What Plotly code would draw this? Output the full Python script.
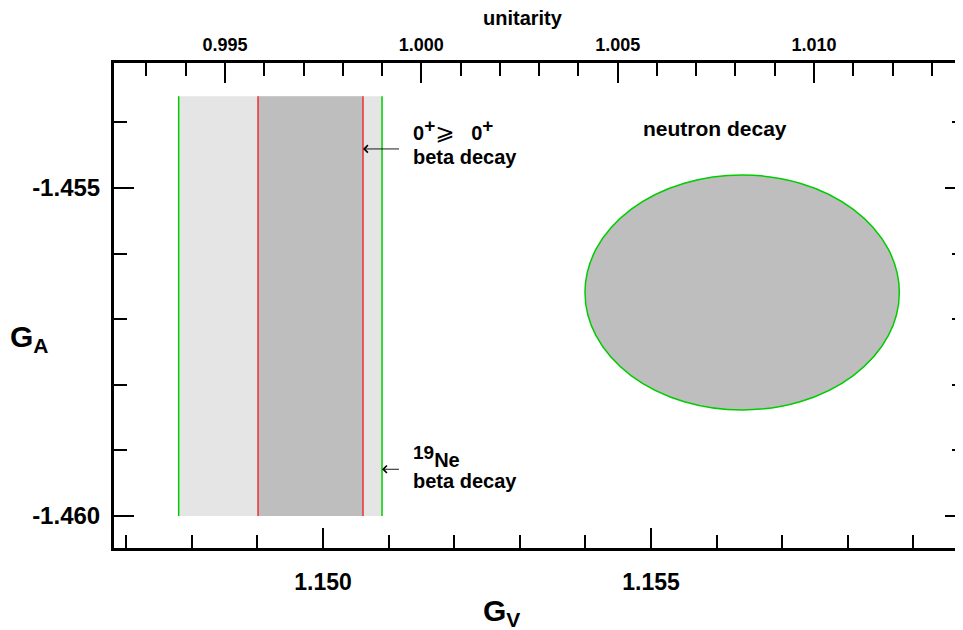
import plotly.graph_objects as go

# ---- data ----
gv_range = [1.146814, 1.159787]          # bottom axis G_V
unit_range = [0.992173, 1.013845]        # top axis "unitarity" (linear map of G_V)
ga_range = [-1.460488, -1.453095]        # G_A

x_tick_vals = [1.150, 1.155]
x_tick_text = ["1.150", "1.155"]
u_tick_vals = [0.995, 1.000, 1.005, 1.010]
u_tick_text = ["0.995", "1.000", "1.005", "1.010"]
y_tick_vals = [-1.455, -1.460]
y_tick_text = ["-1.455", "-1.460"]

ne19_band = [1.14780, 1.15090]           # 19Ne beta decay (green edges)
superallowed_band = [1.14901, 1.15061]   # 0+ -> 0+ beta decay (red edges)
band_ga = [-1.4600, -1.4536]             # vertical extent of the bands

neutron_center = [1.15639, -1.456593]    # neutron decay ellipse (G_V, G_A)
neutron_semi = [0.002396, 0.001791]      # semi-axes (G_V, G_A)

label_x = 1.151334                       # left edge of the band labels
label_y = [-1.454119, -1.454523, -1.45909, -1.459466]
arrow_tail_x = 1.151204
arrow_y = [-1.454405, -1.459288]

FONT = "Liberation Sans, Arial, Helvetica, sans-serif"
GREEN = "#00cc00"
RED = "#ee3030"
LIGHT = "#e5e5e5"
DARK = "#bebebe"

fig = go.Figure()
fig.add_trace(go.Scatter(x=gv_range, y=ga_range, mode="markers",
                         marker=dict(opacity=0), hoverinfo="skip", showlegend=False))
fig.add_trace(go.Scatter(x=unit_range, y=ga_range, mode="markers", xaxis="x2", yaxis="y2",
                         marker=dict(opacity=0), hoverinfo="skip", showlegend=False))

shapes = []
shapes.append(dict(type="rect", xref="x", yref="y", x0=ne19_band[0], x1=ne19_band[1],
                   y0=band_ga[0], y1=band_ga[1], fillcolor=LIGHT, line=dict(width=0), layer="below"))
shapes.append(dict(type="rect", xref="x", yref="y", x0=superallowed_band[0], x1=superallowed_band[1],
                   y0=band_ga[0], y1=band_ga[1], fillcolor=DARK, line=dict(width=0), layer="below"))
for xv in ne19_band:
    shapes.append(dict(type="line", xref="x", yref="y", x0=xv, x1=xv, y0=band_ga[0], y1=band_ga[1],
                       line=dict(color=GREEN, width=1.5)))
for xv in superallowed_band:
    shapes.append(dict(type="line", xref="x", yref="y", x0=xv, x1=xv, y0=band_ga[0], y1=band_ga[1],
                       line=dict(color=RED, width=1.5)))
shapes.append(dict(type="circle", xref="x", yref="y",
                   x0=neutron_center[0] - neutron_semi[0], x1=neutron_center[0] + neutron_semi[0],
                   y0=neutron_center[1] - neutron_semi[1], y1=neutron_center[1] + neutron_semi[1],
                   fillcolor=DARK, line=dict(color=GREEN, width=1.5)))

tf = dict(family=FONT, color="black", weight="bold")
plus = "<sup><span style='font-size:19px'>+</span></sup>"
geq = "<span style='font-family:DejaVu Sans;font-weight:normal;font-size:23px'>⩾</span>"
nb = "\u00a0"
annotations = [
    dict(text="unitarity", xref="paper", yref="paper", x=0.4806, y=1.0928,
         xanchor="center", yanchor="middle", showarrow=False, font=dict(tf, size=20)),
    dict(text="G<sub>V</sub>", xref="paper", yref="paper", x=0.4548, y=-0.134,
         xanchor="center", yanchor="middle", showarrow=False, font=dict(tf, size=30)),
    dict(text="G<sub>A</sub>", xref="paper", yref="paper", x=-0.1246, y=0.431,
         xanchor="left", yanchor="middle", showarrow=False, font=dict(tf, size=30)),
    dict(text="0" + plus + geq + nb * 3 + "0" + plus, xref="x", yref="y", x=label_x, y=label_y[0],
         xanchor="left", yanchor="middle", showarrow=False, font=dict(tf, size=20)),
    dict(text="beta decay", xref="x", yref="y", x=label_x, y=label_y[1],
         xanchor="left", yanchor="middle", showarrow=False, font=dict(tf, size=20)),
    dict(text="<sup><span style='font-size:19px'>19</span></sup>Ne", xref="x", yref="y",
         x=label_x, y=label_y[2],
         xanchor="left", yanchor="middle", showarrow=False, font=dict(tf, size=20)),
    dict(text="beta decay", xref="x", yref="y", x=label_x, y=label_y[3],
         xanchor="left", yanchor="middle", showarrow=False, font=dict(tf, size=20)),
    dict(text="neutron decay", xref="x", yref="y", x=1.155976, y=-1.45410,
         xanchor="center", yanchor="middle", showarrow=False, font=dict(tf, size=21)),
    dict(text=" ", xref="x", yref="y", axref="x", ayref="y",
         x=superallowed_band[1], y=arrow_y[0], ax=arrow_tail_x, ay=arrow_y[0],
         showarrow=True, arrowhead=4, arrowsize=1.6, arrowwidth=0.9, arrowcolor="black"),
    dict(text=" ", xref="x", yref="y", axref="x", ayref="y",
         x=ne19_band[1], y=arrow_y[1], ax=arrow_tail_x, ay=arrow_y[1],
         showarrow=True, arrowhead=4, arrowsize=1.6, arrowwidth=0.9, arrowcolor="black"),
]

tick_common = dict(ticks="inside", ticklen=20, tickwidth=1.5, tickcolor="black",
                   showgrid=False, zeroline=False)

def minor(t0):
    return dict(tick0=t0, dtick=0.001, ticks="inside", ticklen=13,
                tickwidth=1.5, tickcolor="black", showgrid=False)

fig.update_layout(
    width=963, height=630,
    margin=dict(l=106, r=6, t=55, b=90),
    paper_bgcolor="white", plot_bgcolor="white",
    showlegend=False,
    shapes=shapes, annotations=annotations,
    xaxis=dict(range=gv_range, tickmode="array", tickvals=x_tick_vals, ticktext=x_tick_text,
               showline=True, linewidth=3, linecolor="black", automargin=False,
               tickfont=dict(tf, size=23), ticklabelstandoff=11,
               minor=minor(1.150), **tick_common),
    xaxis2=dict(range=unit_range, overlaying="x", side="top", anchor="y", automargin=False,
                tickmode="array", tickvals=u_tick_vals, ticktext=u_tick_text,
                showline=True, linewidth=3, linecolor="black",
                tickfont=dict(tf, size=18), ticklabelstandoff=2,
                minor=minor(0.995), **tick_common),
    yaxis=dict(range=ga_range, tickmode="array", tickvals=y_tick_vals, ticktext=y_tick_text,
               showline=True, linewidth=3, linecolor="black", automargin=False,
               tickfont=dict(tf, size=24), ticklabelstandoff=6,
               minor=minor(-1.460), **tick_common),
    yaxis2=dict(range=ga_range, overlaying="y", side="right", anchor="x", automargin=False,
                tickmode="array", tickvals=y_tick_vals, showticklabels=False,
                showline=False, minor=minor(-1.460), **tick_common),
)

fig.write_html("out.html")
